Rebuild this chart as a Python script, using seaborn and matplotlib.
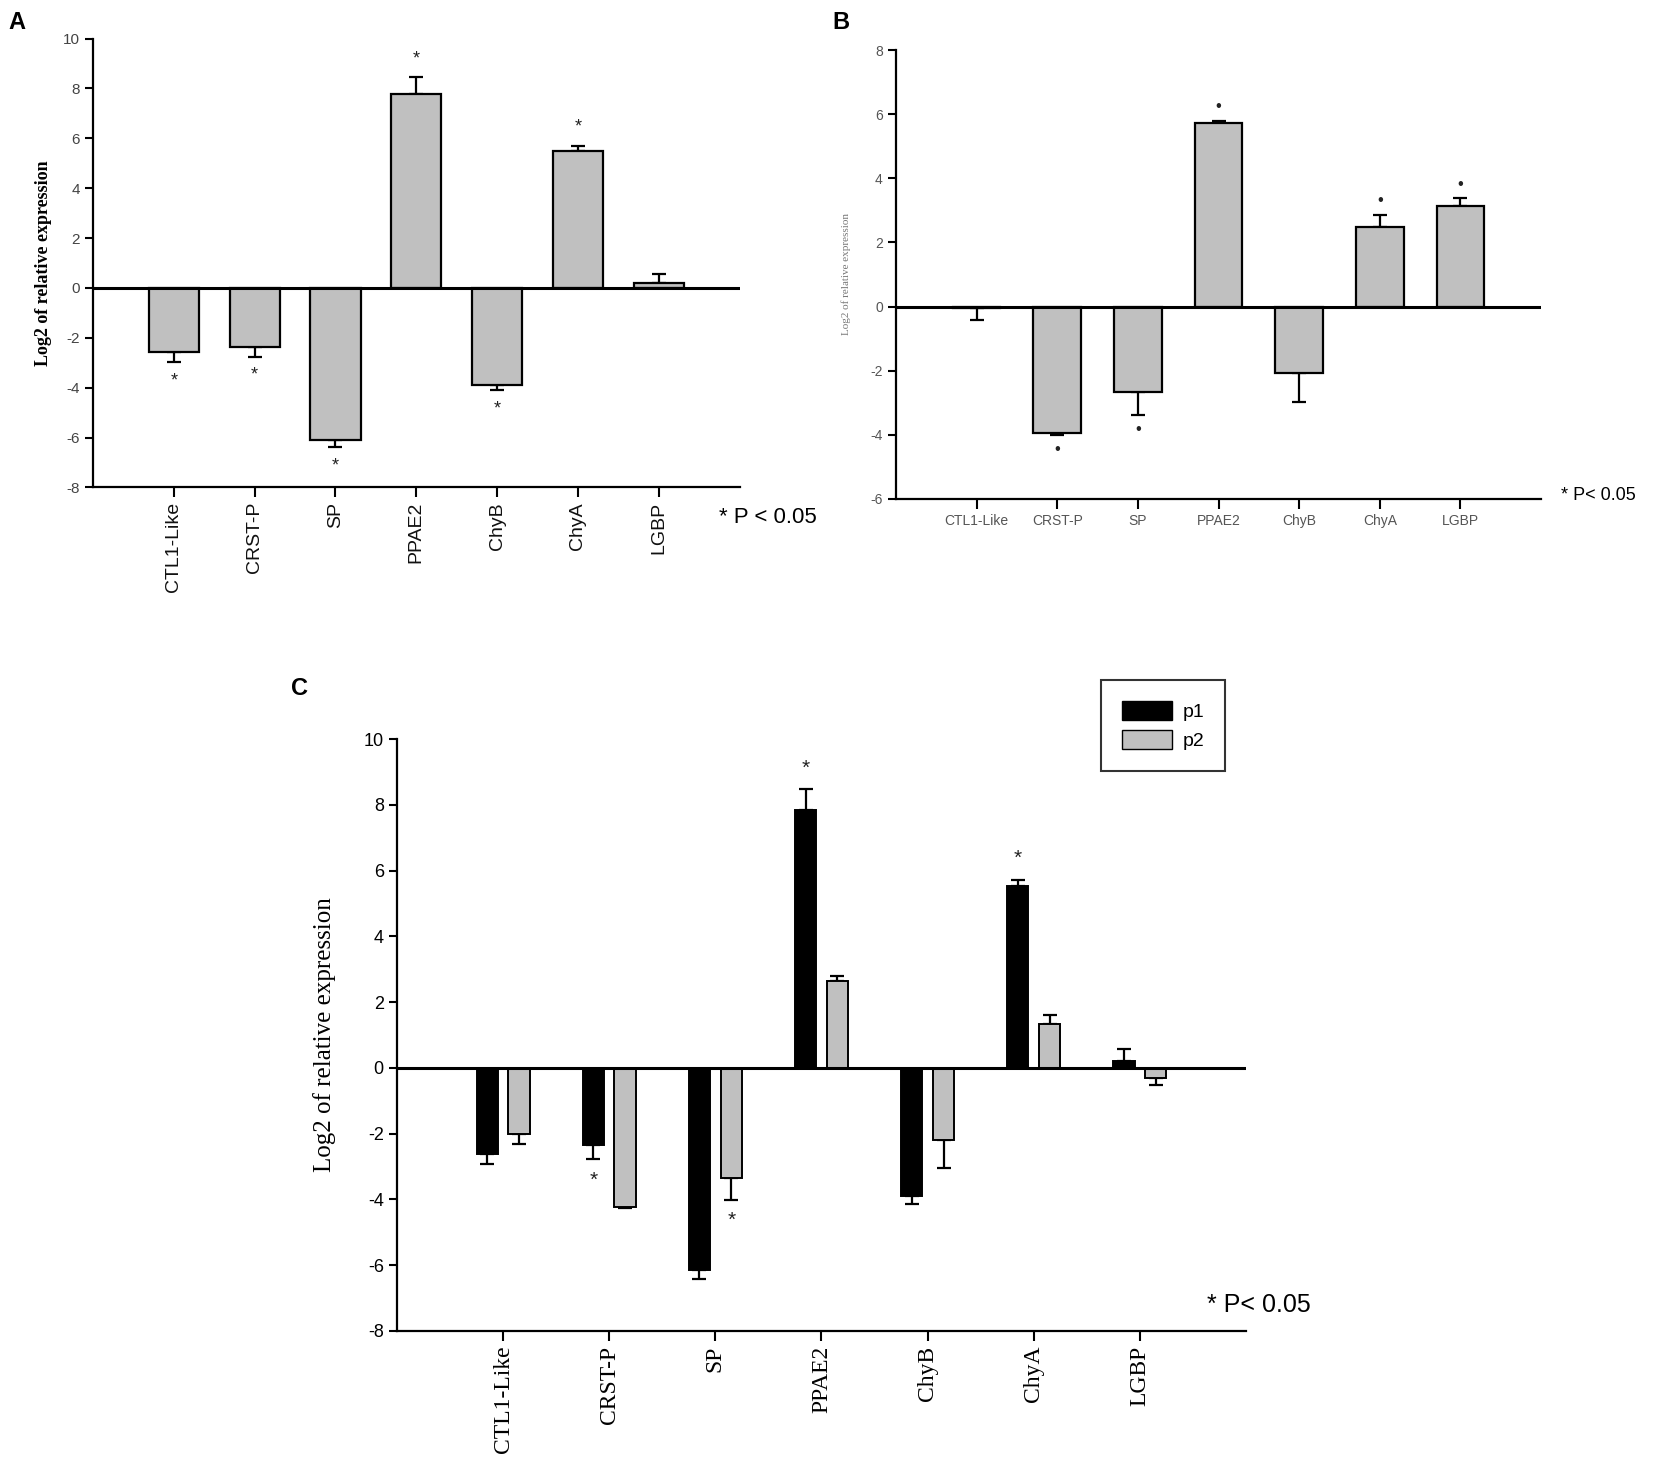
import numpy as np
import pandas as pd
import matplotlib
matplotlib.use('Agg')
import matplotlib.pyplot as plt
from matplotlib.patches import Patch
import seaborn as sns

plt.rcParams['axes.unicode_minus'] = False

genes = ['CTL1-Like', 'CRST-P', 'SP', 'PPAE2', 'ChyB', 'ChyA', 'LGBP']

# panel A (single series)
a_mean = [-2.58, -2.36, -6.09, 7.78, -3.90, 5.49, 0.19]
a_err = [0.39, 0.39, 0.29, 0.67, 0.21, 0.21, 0.35]
a_sig = [1, 1, 1, 1, 1, 1, 0]

# panel B (single series)
b_mean = [-0.03, -3.93, -2.67, 5.73, -2.08, 2.49, 3.14]
b_err = [0.38, 0.07, 0.72, 0.05, 0.89, 0.37, 0.23]
b_sig = [0, 1, 1, 1, 0, 1, 1]

# panel C (p1 / p2)
groups = ['p1', 'p2']
c_p1 = [-2.63, -2.34, -6.14, 7.83, -3.91, 5.52, 0.21]
c_p1_err = [0.28, 0.42, 0.28, 0.64, 0.23, 0.19, 0.35]
c_p1_sig = [0, 1, 0, 1, 0, 1, 0]
c_p2 = [-2.01, -4.23, -3.34, 2.63, -2.18, 1.34, -0.31]
c_p2_err = [0.29, 0.02, 0.69, 0.16, 0.86, 0.28, 0.20]
c_p2_sig = [0, 0, 1, 0, 0, 0, 0]

GRAY = '#c0c0c0'
SANS = 'Liberation Sans'
SERIF = 'Liberation Serif'


##draw one-sided error bars + significance marks above/below bars
def add_err(ax, bars, vals, errs, sig, mark='*', off=0.7, fs=14, cap=5, lw=1.6):
    for bar, v, e, s in zip(bars, vals, errs, sig):
        x = bar.get_x() + bar.get_width() / 2
        d = 1 if v >= 0 else -1
        lo = e if d < 0 else 0
        hi = e if d > 0 else 0
        ax.errorbar(x, v, yerr=[[lo], [hi]], fmt='none', ecolor='k',
                    elinewidth=lw, capsize=cap, capthick=lw, zorder=1)
        if s:
            ax.text(x, v + d * (e + off), mark, ha='center', va='center',
                    fontsize=fs, color='#222', family=SANS)


def style_axes(ax, ylim, step, lw=1.6):
    ax.set_xlim(-1, 7)
    ax.set_ylim(*ylim)
    ax.set_yticks(np.arange(ylim[0], ylim[1] + 0.1, step))
    for sp in ['top', 'right']:
        ax.spines[sp].set_visible(False)
    for sp in ['left', 'bottom']:
        ax.spines[sp].set_linewidth(lw)
    ax.axhline(0, color='k', lw=2.2, zorder=3)
    ax.set_xlabel('')


fig = plt.figure(figsize=(16.54, 14.71), dpi=100)

##Panel A
axA = fig.add_axes([0.0562, 0.6686, 0.391, 0.3052])
sns.barplot(x=genes, y=a_mean, color=GRAY, saturation=1, edgecolor='k',
            linewidth=1.6, width=0.62, errorbar=None, ax=axA, zorder=2)
style_axes(axA, (-8, 10), 2)
add_err(axA, axA.patches, a_mean, a_err, a_sig, '*', 0.75, 13)
axA.tick_params(axis='x', labelrotation=90, labelsize=14, length=7, width=1.5,
                labelcolor='#111')
axA.tick_params(axis='y', labelsize=11, length=6, width=1.5, labelcolor='#444')
for t in axA.get_xticklabels() + axA.get_yticklabels():
    t.set_family(SANS)
axA.set_ylabel('Log2 of relative expression', family=SERIF, fontweight='bold',
               fontsize=13, labelpad=8)
fig.text(0.435, 0.648, '* P < 0.05', fontsize=16, family=SANS, va='center')
fig.text(0.005, 0.985, 'A', fontsize=17, fontweight='bold', family=SANS, va='center')

##Panel B
axB = fig.add_axes([0.5417, 0.6608, 0.390, 0.3052])
sns.barplot(x=genes, y=b_mean, color=GRAY, saturation=1, edgecolor='k',
            linewidth=1.6, width=0.59, errorbar=None, ax=axB, zorder=2)
style_axes(axB, (-6, 8), 2)
add_err(axB, axB.patches, b_mean, b_err, b_sig, '\u2022', 0.45, 12)
axB.tick_params(axis='x', labelsize=10, length=7, width=1.5, labelcolor='#555')
axB.tick_params(axis='y', labelsize=10, length=6, width=1.5, labelcolor='#555')
for t in axB.get_xticklabels() + axB.get_yticklabels():
    t.set_family(SANS)
axB.set_ylabel('Log2 of relative expression', family=SERIF, fontsize=8,
               color='#777', labelpad=14)
fig.text(0.944, 0.663, '* P< 0.05', fontsize=13, family=SANS, va='center')
fig.text(0.503, 0.985, 'B', fontsize=17, fontweight='bold', family=SANS, va='center')

##Panel C
dfC = pd.DataFrame({'gene': genes * 2,
                    'val': c_p1 + c_p2,
                    'grp': ['p1'] * len(genes) + ['p2'] * len(genes)})
axC = fig.add_axes([0.240, 0.0952, 0.5133, 0.4024])
sns.barplot(data=dfC, x='gene', y='val', hue='grp', order=genes, hue_order=groups,
            palette=['black', GRAY], saturation=1, edgecolor='k', linewidth=1.4,
            width=0.6, gap=0.33, errorbar=None, legend=False, ax=axC, zorder=2)
style_axes(axC, (-8, 10), 2)
add_err(axC, axC.containers[0], c_p1, c_p1_err, c_p1_sig, '*', 0.65, 15)
add_err(axC, axC.containers[1], c_p2, c_p2_err, c_p2_sig, '*', 0.6, 15)
axC.set_ylabel('Log2 of relative expression', family=SERIF, fontsize=18, labelpad=20)
axC.tick_params(axis='x', labelrotation=90, labelsize=17, length=7, width=1.5)
axC.tick_params(axis='y', labelsize=13, length=6, width=1.5)
for t in axC.get_xticklabels():
    t.set_family(SERIF)
for t in axC.get_yticklabels():
    t.set_family(SANS)
handles = [Patch(facecolor='black', edgecolor='k', label='p1'),
           Patch(facecolor=GRAY, edgecolor='k', label='p2')]
leg = fig.legend(handles=handles, loc='upper left', bbox_to_anchor=(0.6595, 0.5445),
                 frameon=True, fancybox=False, edgecolor='k',
                 handlelength=2.6, handleheight=1.1, borderpad=1.1, labelspacing=0.45,
                 handletextpad=0.5, prop={'family': SANS, 'size': 14})
leg.get_frame().set_linewidth(1.5)
fig.text(0.730, 0.113, '* P< 0.05', fontsize=18, family=SANS, va='center')
fig.text(0.176, 0.532, 'C', fontsize=17, fontweight='bold', family=SANS, va='center')

fig.savefig('out.png', dpi=100)
